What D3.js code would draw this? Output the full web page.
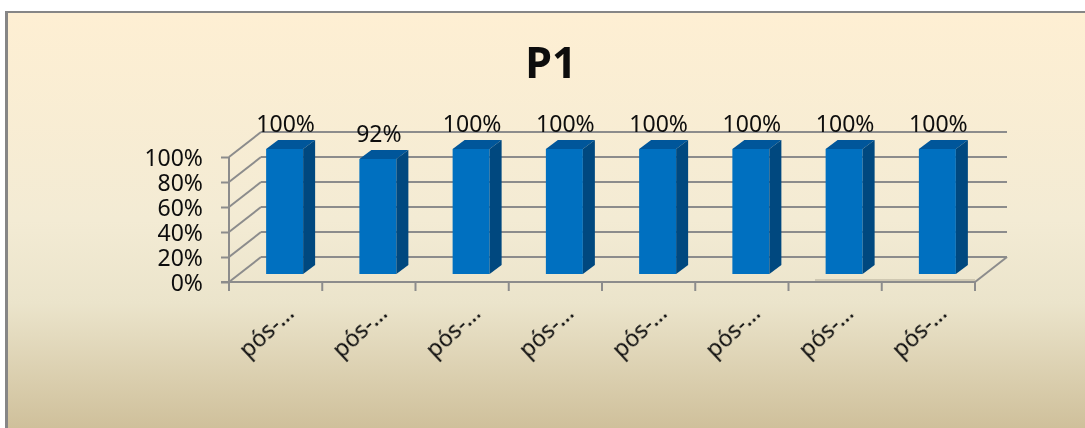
<!DOCTYPE html>
<html>
<head>
<meta charset="utf-8">
<script src="https://cdn.jsdelivr.net/npm/d3@7"></script>
<style>
  html, body { margin: 0; padding: 0; background: #fff; }
  svg { display: block; }
  text { font-family: "Noto Sans", sans-serif; fill: #0c0c0c; }
</style>
</head>
<body>
<div id="app"></div>
<script>
const title = 'P1';
const categories = ['pós-1', 'pós-2', 'pós-3', 'pós-4', 'pós-5', 'pós-6', 'pós-7', 'pós-8'];
const categoryLabels = ['pós-…', 'pós-…', 'pós-…', 'pós-…', 'pós-…', 'pós-…', 'pós-…', 'pós-…'];
const values = [1, 0.92, 1, 1, 1, 1, 1, 1];
const yTicks = [0, 0.2, 0.4, 0.6, 0.8, 1];

const width = 1085;
const height = 428;
const depth = { x: 32, y: 25 };       // how far the back wall sits from the front axis
const barDepth = { x: 12, y: 9 };
const barOffset = { x: 9, y: 8 };     // bars stand a little behind the front axis
const labelSize = 23;
const pct = d3.format('.0%');

const x = d3.scaleBand().domain(categories).range([229, 975]).paddingInner(0).paddingOuter(0);
const y = d3.scaleLinear().domain([0, 1]).range([282, 157]);
const barWidth = 37;

const svg = d3.select('#app').append('svg')
  .attr('width', width)
  .attr('height', height)
  .attr('viewBox', `0 0 ${width} ${height}`);

const defs = svg.append('defs');
const bg = defs.append('linearGradient')
  .attr('id', 'bg').attr('x1', 0).attr('x2', 0).attr('y1', 0).attr('y2', 1);
[[0, '#feefd3'], [0.5, '#f3ebd4'], [0.7, '#ebe4cb'], [1, '#cfc09b']].forEach(([o, c]) =>
  bg.append('stop').attr('offset', o).attr('stop-color', c));
defs.append('filter').attr('id', 'soft')
  .append('feGaussianBlur').attr('stdDeviation', 0.35);

// background with the grey border only on the top and left
svg.append('rect').attr('x', 5).attr('y', 11).attr('width', width - 5).attr('height', height - 11)
  .attr('fill', '#868686');
svg.append('rect').attr('x', 8).attr('y', 13).attr('width', width - 8).attr('height', height - 13)
  .attr('fill', 'url(#bg)');

svg.append('text')
  .attr('x', 551).attr('y', 78)
  .attr('text-anchor', 'middle')
  .attr('font-weight', 'bold')
  .attr('font-size', 43)
  .attr('filter', 'url(#soft)')
  .text(title);

const x0 = x.range()[0];
const x1 = x.range()[1];
const lineColor = '#8c8c8c';

// back wall grid and left side wall
const grid = svg.append('g').attr('fill', 'none').attr('stroke', lineColor).attr('stroke-width', 2);
yTicks.forEach(t => {
  grid.append('line')
    .attr('x1', x0 + depth.x).attr('x2', x1 + depth.x)
    .attr('y1', y(t) - depth.y).attr('y2', y(t) - depth.y);
  grid.append('line')
    .attr('x1', x0).attr('x2', x0 + depth.x)
    .attr('y1', y(t)).attr('y2', y(t) - depth.y);
});
grid.append('line')
  .attr('x1', x0).attr('x2', x0)
  .attr('y1', y(1)).attr('y2', y(0));
grid.append('line')
  .attr('x1', x1).attr('x2', x1 + depth.x)
  .attr('y1', y(0)).attr('y2', y(0) - depth.y);

// y axis
const yAxis = svg.append('g')
  .attr('transform', `translate(${x0},0)`)
  .call(d3.axisLeft(y).tickValues(yTicks).tickFormat(pct).tickSize(8).tickPadding(18));
yAxis.select('.domain').remove();
yAxis.selectAll('line').attr('stroke', lineColor).attr('stroke-width', 2);
yAxis.selectAll('text')
  .attr('font-size', labelSize)
  .attr('dy', '0.36em')
  .attr('filter', 'url(#soft)')
  .style('font-family', '"Noto Sans", sans-serif');

// x axis line and separators between categories
svg.append('line')
  .attr('x1', x0 - 8).attr('x2', x1)
  .attr('y1', y(0)).attr('y2', y(0))
  .attr('stroke', lineColor).attr('stroke-width', 2);
svg.append('line')
  .attr('x1', x1 - 160).attr('x2', x1)
  .attr('y1', y(0) - 2).attr('y2', y(0) - 2)
  .attr('stroke', '#cfc8b2').attr('stroke-width', 2);
svg.append('g').selectAll('line')
  .data(categories.concat(['end']))
  .join('line')
  .attr('x1', (d, i) => x0 + i * x.step())
  .attr('x2', (d, i) => x0 + i * x.step())
  .attr('y1', y(0))
  .attr('y2', y(0) + 9)
  .attr('stroke', lineColor)
  .attr('stroke-width', 2);

// bars: front, top and side faces
const bars = svg.append('g').selectAll('g')
  .data(categories.map((c, i) => ({ c, v: values[i] })))
  .join('g')
  .attr('transform', d => `translate(${x(d.c) + x.step() / 2 + barOffset.x - barWidth / 2},${-barOffset.y})`);

bars.append('rect')
  .attr('x', 0).attr('width', barWidth)
  .attr('y', d => y(d.v))
  .attr('height', d => y(0) - y(d.v))
  .attr('fill', '#0070c0');

bars.append('path')
  .attr('fill', '#00569a')
  .attr('d', d => {
    const t = y(d.v);
    return `M0,${t}L${barDepth.x},${t - barDepth.y}H${barWidth + barDepth.x}L${barWidth},${t}Z`;
  });

bars.append('path')
  .attr('fill', '#00487f')
  .attr('d', d => {
    const t = y(d.v);
    const b = y(0);
    return `M${barWidth},${t}L${barWidth + barDepth.x},${t - barDepth.y}V${b - barDepth.y}L${barWidth},${b}Z`;
  });

// value labels
svg.append('g').selectAll('text')
  .data(categories.map((c, i) => ({ c, v: values[i] })))
  .join('text')
  .attr('x', d => x(d.c) + x.step() / 2 + barOffset.x + 1)
  .attr('y', d => y(d.v) - barOffset.y - 17)
  .attr('text-anchor', 'middle')
  .attr('font-size', labelSize)
  .attr('filter', 'url(#soft)')
  .text(d => pct(d.v));

// category labels, rotated
svg.append('g').selectAll('text')
  .data(categories)
  .join('text')
  .attr('text-anchor', 'end')
  .attr('font-size', labelSize)
  .attr('filter', 'url(#soft)')
  .attr('transform', (d, i) => `translate(${x(d) + x.step() / 2 + 20},${y(0) + 33}) rotate(-43)`)
  .text((d, i) => categoryLabels[i]);
</script>
</body>
</html>
